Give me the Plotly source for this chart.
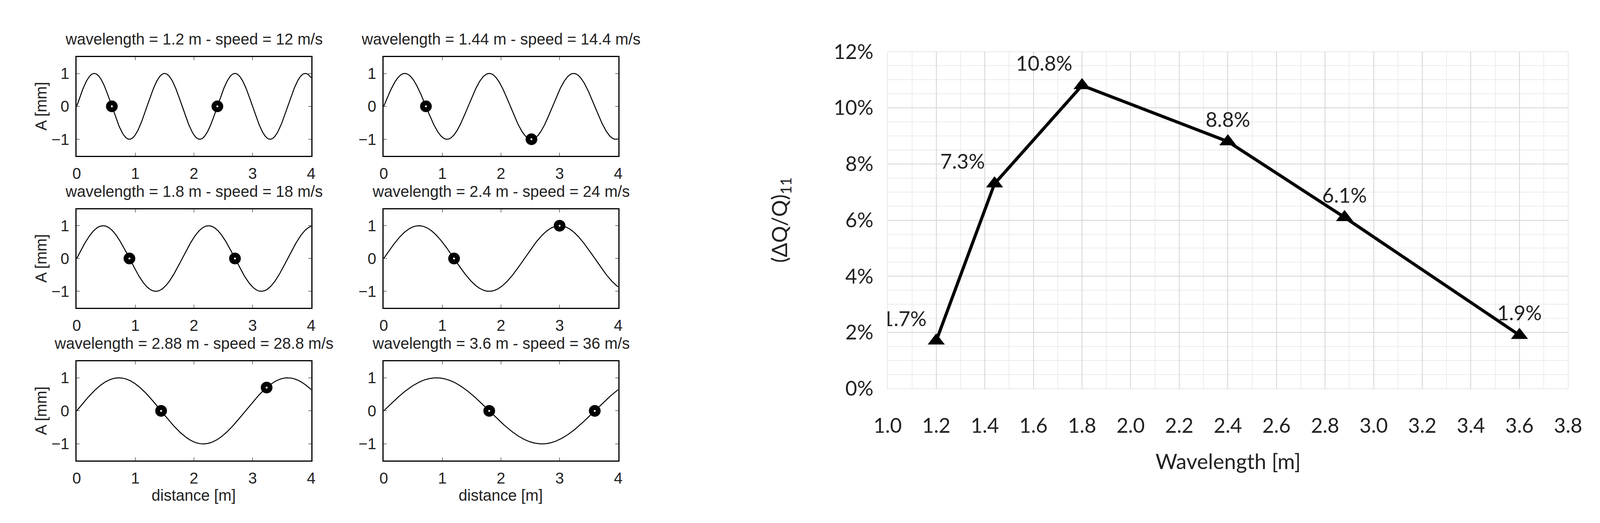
import numpy as np
import plotly.graph_objects as go

# left panels: wave wavelength [m], speed [m/s], marker positions [m]
wavelengths = [1.2, 1.44, 1.8, 2.4, 2.88, 3.6]
speeds = ["12", "14.4", "18", "24", "28.8", "36"]
wl_labels = ["1.2", "1.44", "1.8", "2.4", "2.88", "3.6"]
marker_x = [[0.6, 2.4], [0.72, 2.52], [0.9, 2.7], [1.2, 3.0], [1.44, 3.24], [1.8, 3.6]]

# right panel
wl_points = [1.2, 1.44, 1.8, 2.4, 2.88, 3.6]
dq_values = [1.7, 7.3, 10.8, 8.8, 6.1, 1.9]
dq_labels = ["1.7%", "7.3%", "10.8%", "8.8%", "6.1%", "1.9%"]
label_pos = ["top left", "top left", "top left", "top center", "top center", "top center"]

W, H = 4117, 1339
col_x = [(155 / W, 766 / W), (955 / W, 1566 / W)]
row_y = [(110, 375), (519, 783), (927, 1193)]

LFONT = "Liberation Sans Narrow, Liberation Sans, Arial"
RFONT = "Lato, Open Sans, sans-serif"

fig = go.Figure()
layout = {}
annotations = []

for i, wl in enumerate(wavelengths):
    r, c = divmod(i, 2)
    n = i + 1
    xa = "x" if n == 1 else f"x{n}"
    ya = "y" if n == 1 else f"y{n}"
    xs = np.linspace(0, 4, 400)
    fig.add_trace(go.Scatter(x=xs, y=np.sin(2 * np.pi * xs / wl), mode="lines",
                             line=dict(color="black", width=2.5), xaxis=xa, yaxis=ya,
                             showlegend=False))
    mx = np.array(marker_x[i])
    my = np.sin(2 * np.pi * mx / wl)
    fig.add_trace(go.Scatter(x=mx, y=my, mode="markers",
                             marker=dict(color="black", size=30), xaxis=xa, yaxis=ya,
                             showlegend=False))
    fig.add_trace(go.Scatter(x=mx, y=my, mode="markers",
                             marker=dict(color="white", size=5), xaxis=xa, yaxis=ya,
                             showlegend=False))
    top, bot = row_y[r]
    axis_common = dict(showline=True, linecolor="black", linewidth=3, mirror="ticks",
                       ticks="inside", ticklen=8, tickcolor="black", showgrid=False,
                       zeroline=False, ticklabelstandoff=8,
                       tickfont=dict(family=LFONT, size=40, color="#222"))
    layout["xaxis" if n == 1 else f"xaxis{n}"] = dict(
        axis_common, domain=list(col_x[c]), range=[0, 4], tickvals=[0, 1, 2, 3, 4],
        anchor=ya)
    layout["yaxis" if n == 1 else f"yaxis{n}"] = dict(
        axis_common, domain=[1 - bot / H, 1 - top / H], range=[-1.5, 1.5],
        tickvals=[-1, 0, 1], anchor=xa)
    annotations.append(dict(
        text=f"wavelength = {wl_labels[i]} m - speed = {speeds[i]} m/s",
        x=sum(col_x[c]) / 2, y=1 - (top - 48) / H, xref="paper", yref="paper",
        xanchor="center", yanchor="middle", showarrow=False,
        font=dict(family=LFONT, size=40, color="#222")))
    if c == 0:
        annotations.append(dict(text="A [mm]", x=62 / W, y=1 - (top + bot) / 2 / H,
                                xref="paper", yref="paper", xanchor="center",
                                yanchor="middle", showarrow=False, textangle=-90,
                                font=dict(family=LFONT, size=40, color="#222")))
    if r == 2:
        annotations.append(dict(text="distance [m]", x=sum(col_x[c]) / 2, y=1 - 1287 / H,
                                xref="paper", yref="paper", xanchor="center",
                                yanchor="middle", showarrow=False,
                                font=dict(family=LFONT, size=40, color="#222")))

fig.add_trace(go.Scatter(x=wl_points, y=dq_values, mode="lines+markers+text",
                         text=dq_labels, textposition=label_pos,
                         textfont=dict(family=RFONT, size=52, color="#222"),
                         line=dict(color="black", width=8),
                         marker=dict(symbol="triangle-up", size=38, color="black"),
                         xaxis="x7", yaxis="y7", showlegend=False))

grid = dict(showgrid=True, gridcolor="#d4d4d4", gridwidth=2, zeroline=False,
            tickfont=dict(family=RFONT, size=52, color="#222"), ticks="")
layout["xaxis7"] = dict(grid, domain=[2268 / W, 4041 / W], range=[1.0, 3.8], dtick=0.2,
                        tickformat=".1f", anchor="y7", showline=True, linecolor="#d4d4d4",
                        mirror=True, ticklabelstandoff=50,
                        minor=dict(dtick=0.1, showgrid=True, gridcolor="#ececec", gridwidth=2))
layout["yaxis7"] = dict(grid, domain=[1 - 1000 / H, 1 - 96 / H], range=[0, 12], dtick=2,
                        ticksuffix="%", anchor="x7", showline=True, linecolor="#d4d4d4",
                        mirror=True, ticklabelstandoff=25,
                        minor=dict(dtick=0.5, showgrid=True, gridcolor="#ececec", gridwidth=2))
annotations.append(dict(text="(ΔQ/Q)<sub>11</sub>", x=1988 / W, y=1 - 548 / H,
                        xref="paper", yref="paper", xanchor="center", yanchor="middle",
                        showarrow=False, textangle=-90,
                        font=dict(family=RFONT, size=54, color="#222")))
annotations.append(dict(text="Wavelength [m]", x=3155 / W, y=1 - 1195 / H,
                        xref="paper", yref="paper", xanchor="center", yanchor="middle",
                        showarrow=False,
                        font=dict(family=RFONT, size=54, color="#222")))

fig.update_layout(**layout, annotations=annotations, width=W, height=H,
                  margin=dict(l=0, r=0, t=0, b=0),
                  paper_bgcolor="white", plot_bgcolor="white")
fig.write_html("out.html")
